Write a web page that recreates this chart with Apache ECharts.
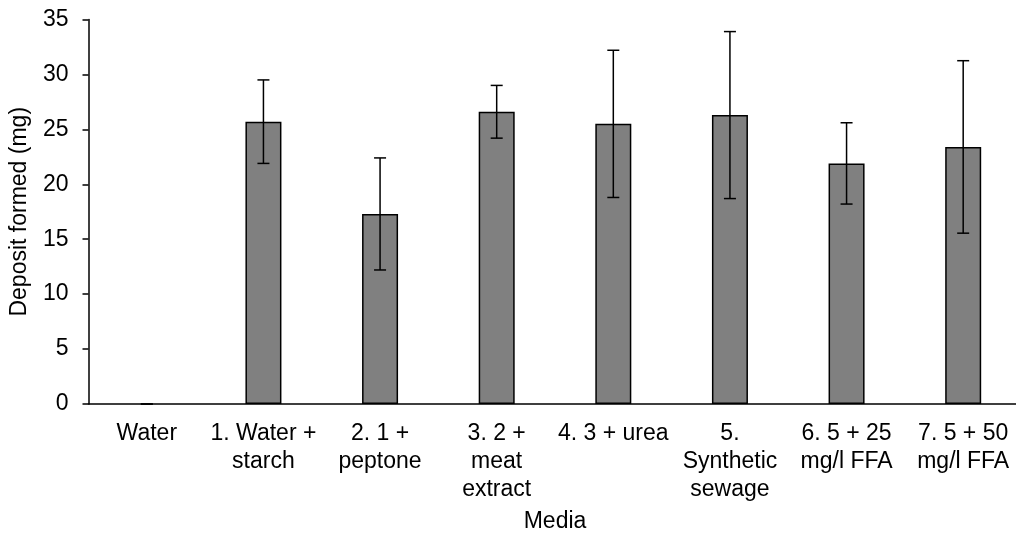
<!DOCTYPE html>
<html><head><meta charset="utf-8">
<script src="https://cdn.jsdelivr.net/npm/echarts@6/dist/echarts.min.js"></script>
<style>html,body{margin:0;padding:0;background:#fff}#c{width:1016px;height:537px}</style>
</head><body><div id="c"></div>
<script>
const categories = ["Water", "1. Water +\nstarch", "2. 1 +\npeptone", "3. 2 +\nmeat\nextract", "4. 3 + urea", "5.\nSynthetic\nsewage", "6. 5 + 25\nmg/l FFA", "7. 5 + 50\nmg/l FFA"];
const means = [0, 25.7, 17.3, 26.6, 25.5, 26.3, 21.9, 23.4];
const errors = [0, 3.8, 5.1, 2.4, 6.7, 7.6, 3.7, 7.85];
const yTicks = [0, 5, 10, 15, 20, 25, 30, 35];

const font = '"Liberation Sans", Arial, sans-serif';
const chart = echarts.init(document.getElementById('c'));
chart.setOption({
  animation: false,
  backgroundColor: '#fff',
  grid: { left: 88.5, right: -5.5, top: 19.5, bottom: 133, containLabel: false, outerBoundsMode: 'none' },
  xAxis: {
    type: 'category', data: categories,
    name: 'Media', nameLocation: 'middle', nameGap: 106,
    nameTextStyle: { fontFamily: font, fontSize: 23, color: '#000' },
    axisLine: { lineStyle: { color: '#000', width: 1.5 } },
    axisTick: { alignWithLabel: true, length: 5, lineStyle: { color: '#000', width: 1.5 } },
    axisLabel: { fontFamily: font, fontSize: 23, color: '#000', margin: 16, lineHeight: 28, interval: 0 }
  },
  yAxis: {
    type: 'value', min: 0, max: 35, interval: 5,
    name: 'Deposit formed (mg)', nameLocation: 'middle', nameGap: 57, nameRotate: 90,
    nameTextStyle: { fontFamily: font, fontSize: 23, color: '#000' },
    axisLine: { show: true, lineStyle: { color: '#000', width: 1.5 } },
    axisTick: { show: true, length: 6, lineStyle: { color: '#000', width: 1.5 } },
    axisLabel: { fontFamily: font, fontSize: 23, color: '#000', margin: 20,
      formatter: v => yTicks.includes(v) ? String(v) : '' },
    splitLine: { show: false }
  },
  series: [
    {
      type: 'bar', barWidth: 36,
      data: means.map(v => ({ value: v, itemStyle: v === 0 ? { borderWidth: 0 } : {} })),
      itemStyle: { color: '#808080', borderColor: '#000', borderWidth: 1.5 }
    },
    {
      type: 'custom', z: 10,
      data: means.map((m, i) => [i, m - errors[i], m + errors[i]]),
      renderItem: function (params, api) {
        const lo = api.coord([api.value(0), api.value(1)]);
        const hi = api.coord([api.value(0), api.value(2)]);
        const hw = 6;
        const st = { stroke: '#000', lineWidth: 1.5 };
        return { type: 'group', children: [
          { type: 'line', shape: { x1: hi[0], y1: hi[1], x2: lo[0], y2: lo[1] }, style: st },
          { type: 'line', shape: { x1: hi[0] - hw, y1: hi[1], x2: hi[0] + hw, y2: hi[1] }, style: st },
          { type: 'line', shape: { x1: lo[0] - hw, y1: lo[1], x2: lo[0] + hw, y2: lo[1] }, style: st }
        ]};
      }
    }
  ]
});
</script></body></html>
